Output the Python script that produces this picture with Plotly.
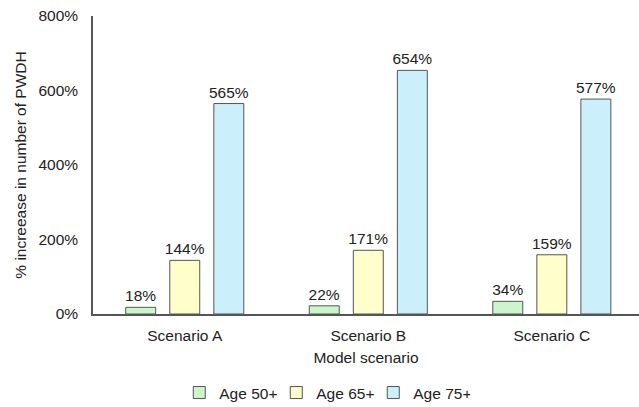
import plotly.graph_objects as go

scenarios = ["Scenario A", "Scenario B", "Scenario C"]
age_groups = ["Age 50+", "Age 65+", "Age 75+"]
increase_50 = [18, 22, 34]
increase_65 = [144, 171, 159]
increase_75 = [565, 654, 577]
y_ticks = [0, 200, 400, 600, 800]

series = [increase_50, increase_65, increase_75]
fills = ["#ccf5cc", "#ffffcc", "#ccf0fb"]

FONT = "Liberation Sans, Arial, sans-serif"
FS = 15.5
INK = "#222222"

fig = go.Figure()
for name, vals, col in zip(age_groups, series, fills):
    fig.add_trace(go.Bar(
        x=scenarios,
        y=vals,
        name=name,
        marker=dict(color=col, line=dict(color="#555555", width=1)),
        text=[f"{v}%" for v in vals],
        textposition="outside",
        constraintext="none",
        textfont=dict(family=FONT, size=FS, color=INK),
        cliponaxis=False,
    ))

fig.update_layout(
    width=639,
    height=407,
    margin=dict(l=93, r=0, t=16, b=93, autoexpand=False),
    paper_bgcolor="white",
    plot_bgcolor="white",
    barmode="group",
    bargap=0.28,
    bargroupgap=0.32,
    font=dict(family=FONT, size=FS, color=INK),
    showlegend=True,
    legend=dict(
        orientation="h",
        x=0.158,
        xanchor="left",
        y=-0.265,
        yanchor="middle",
        entrywidth=52,
        itemwidth=30,
        font=dict(family=FONT, size=FS, color=INK),
        traceorder="normal",
    ),
    xaxis=dict(
        range=[-0.5, 2.475],
        showline=True,
        linecolor="#555555",
        linewidth=1.5,
        ticks="outside",
        ticklen=7,
        tickcolor="rgba(0,0,0,0)",
        showgrid=False,
        title=dict(text="Model scenario", standoff=9,
                   font=dict(family=FONT, size=FS, color=INK)),
        tickfont=dict(family=FONT, size=FS, color=INK),
    ),
    yaxis=dict(
        range=[0, 800],
        tickvals=y_ticks,
        ticktext=[f"{v}%" for v in y_ticks],
        showline=True,
        linecolor="#555555",
        linewidth=1.5,
        showgrid=False,
        zeroline=False,
        ticks="outside",
        ticklen=10,
        tickcolor="rgba(0,0,0,0)",
        tickfont=dict(family=FONT, size=FS, color=INK),
        title=dict(text="% increease in number of PWDH", standoff=8,
                   font=dict(family=FONT, size=FS, color=INK)),
    ),
)

fig.write_html("out.html")
